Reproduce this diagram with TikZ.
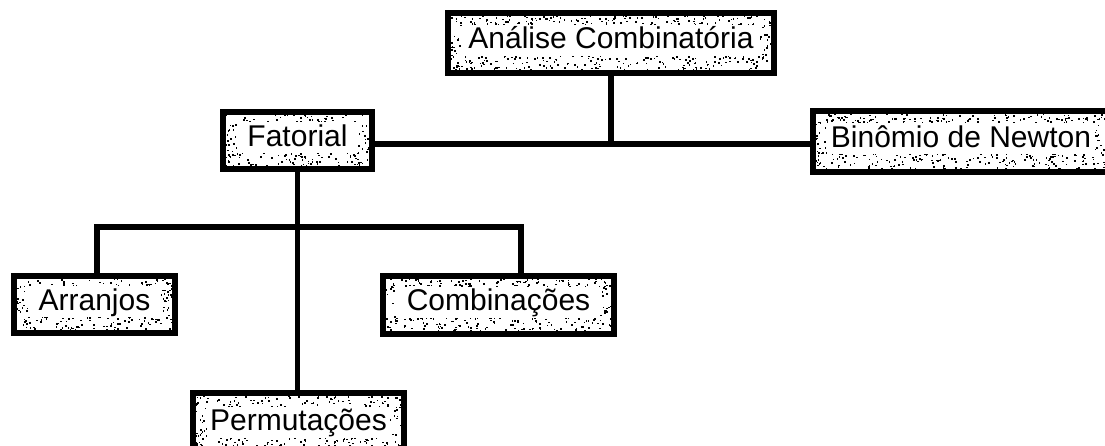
\documentclass[tikz,border=0pt]{standalone}
\usepackage{fontspec}
\setmainfont{Liberation Sans}
\usetikzlibrary{calc}
\pgfdeclarelayer{background}
\pgfsetlayers{background,main}

% speckled fill: random black dots inside the box, text band kept clear
\newcommand\speckle{%
  \pgfpointanchor{path picture bounding box}{south west}\pgfgetlastxy\stx\sty
  \pgfpointanchor{path picture bounding box}{north east}\pgfgetlastxy\sex\sey
  \pgfmathsetmacro\stw{\sex-\stx}%
  \pgfmathsetmacro\sth{\sey-\sty}%
  \pgfmathsetmacro\sxn{\stx}%
  \pgfmathsetmacro\syn{\sty}%
  \pgfmathtruncatemacro\stn{(\stw/24)*\sth}%
  \pgfsetfillcolor{black}%
  \foreach \k in {1,...,\stn}{%
    \pgfmathsetmacro\dx{\sxn+rnd*\stw}%
    \pgfmathsetmacro\dy{\syn+rnd*\sth}%
    \pgfpathrectangle{\pgfpoint{\dx pt}{\dy pt}}{\pgfpoint{1.6pt}{1.6pt}}%
    \pgfusepath{fill}%
  }%
  \pgfsetfillcolor{white}%
  \pgfpathrectangle{\pgfpoint{\sxn pt+14pt}{\syn pt+0.5*\sth pt-13pt}}%
                   {\pgfpoint{\stw pt-28pt}{31pt}}%
  \pgfusepath{fill}%
}

\tikzset{
  x=1pt, y=1pt,
  topic/.style={draw=black, line width=6.5pt, fill=white, inner sep=0pt,
    font=\fontsize{30}{35}\selectfont, text height=18pt, text depth=6pt,
    path picture={\speckle}},
  link/.style={line width=5.5pt, line join=miter}
}

\begin{document}
\begin{tikzpicture}
\pgfmathsetseed{4711}
\useasboundingbox (0,0) rectangle (1105,446);
\clip (0,0) rectangle (1105,446);

% concept boxes
\node[topic, minimum width=326pt, minimum height=60pt] (ana) at (611,403)   {Análise Combinatória};
\node[topic, minimum width=149pt, minimum height=57pt] (fat) at (297.5,305.5) {Fatorial};
\node[topic, minimum width=296pt, minimum height=61pt] (bin) at (961,304.5) {Binômio de Newton};
\node[topic, minimum width=161pt, minimum height=57pt] (arr) at (94.5,141.5) {Arranjos};
\node[topic, minimum width=231pt, minimum height=58pt] (com) at (498.5,141)  {Combinações};
\node[topic, minimum width=211pt, minimum height=64pt] (per) at (298.5,21)   {Permutações};

% junction points of the tree
\coordinate (j1) at (611,302);
\coordinate (ja) at (97,219);
\coordinate (jc) at (521,219);

\begin{pgfonlayer}{background}
  \draw[link] (ana.south) -- (j1);
  \draw[link] (fat.east |- j1) -- (bin.west |- j1);
  \draw[link] (fat.south) -- (fat.south |- per.north);
  \draw[link] (ja |- arr.north) -- (ja) -- (jc) -- (jc |- com.north);
\end{pgfonlayer}
\end{tikzpicture}
\end{document}
